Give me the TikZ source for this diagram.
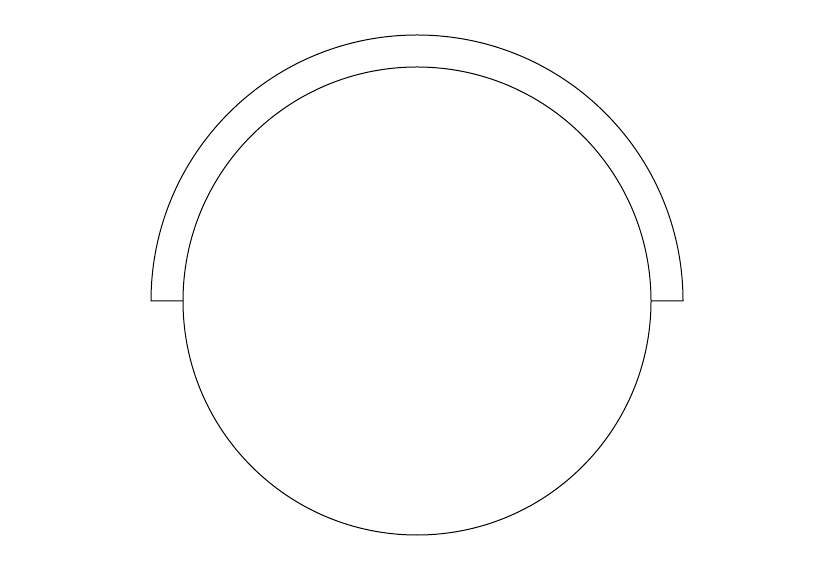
\documentclass[tikz,border=0pt]{standalone}
\begin{document}
\begin{tikzpicture}[x=1pt,y=1pt,
  outline/.style={draw=black,line width=1pt}]
\useasboundingbox (0,0) rectangle (826,583);
% inner circle
\draw[outline] (417,282) circle[radius=234];
% outer half ring
\draw[outline] (183,282) -- (151,282) arc[start angle=180,end angle=0,radius=266] -- (651,282);
\end{tikzpicture}
\end{document}
